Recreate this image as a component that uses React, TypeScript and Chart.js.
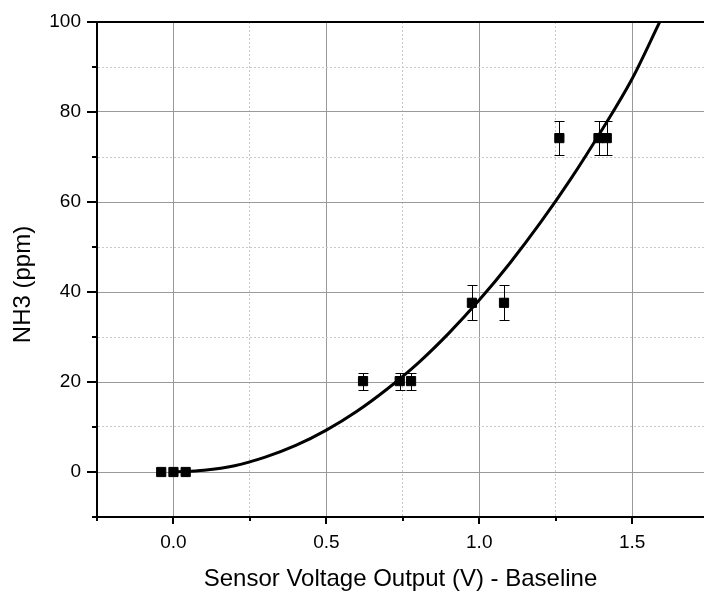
import React, { useEffect, useRef } from 'react';
import { Chart, registerables } from 'chart.js';

Chart.register(...registerables);

// ---- data ----
const xMajorTicks = [0, 0.5, 1.0, 1.5];
const xMinorTicks = [-0.25, 0.25, 0.75, 1.25];
const xTickLabels = ['0.0', '0.5', '1.0', '1.5'];
const yMajorTicks = [0, 20, 40, 60, 80, 100];
const yMinorTicks = [-10, 10, 30, 50, 70, 90];
const yTickLabels = ['0', '20', '40', '60', '80', '100'];

const pointX = [-0.04, 0.0, 0.04, 0.62, 0.74, 0.777, 0.976, 1.081, 1.262, 1.39, 1.417];
const pointY = [0, 0, 0, 20.2, 20.2, 20.2, 37.6, 37.6, 74.2, 74.2, 74.2];
const pointErr = [0, 0, 0, 1.9, 1.9, 1.9, 3.9, 3.9, 3.8, 3.8, 3.8];

const curveX = [0, 0.1, 0.2, 0.3, 0.4, 0.5, 0.6, 0.7, 0.8, 0.9, 1.0, 1.1, 1.2, 1.3, 1.4, 1.5, 1.59];
const curveY = [0, 0.4, 1.4, 3.3, 5.9, 9.3, 13.5, 18.5, 24.2, 30.8, 38.2, 46.4, 55.4, 65.2, 75.9, 87.4, 100];

const xTitle = 'Sensor Voltage Output (V) - Baseline';
const yTitle = 'NH3 (ppm)';

const FONT = '"Liberation Sans", Arial, Helvetica, sans-serif';

const near = (list: number[], v: number) => list.findIndex((m) => Math.abs(m - v) < 1e-9);

const decorPlugin = {
  id: 'decor',
  beforeDatasetsDraw(chart: any) {
    const { ctx, scales } = chart;
    const x = scales.x;
    const y = scales.y;
    ctx.save();
    ctx.strokeStyle = '#000';
    ctx.lineWidth = 1;
    pointX.forEach((vx, i) => {
      const e = pointErr[i];
      if (!e) return;
      const px = Math.round(x.getPixelForValue(vx)) + 0.5;
      const pTop = Math.round(y.getPixelForValue(pointY[i] + e)) + 0.5;
      const pBot = Math.round(y.getPixelForValue(pointY[i] - e)) + 0.5;
      ctx.beginPath();
      ctx.moveTo(px, pTop);
      ctx.lineTo(px, pBot);
      ctx.moveTo(px - 5, pTop);
      ctx.lineTo(px + 5, pTop);
      ctx.moveTo(px - 5, pBot);
      ctx.lineTo(px + 5, pBot);
      ctx.stroke();
    });
    ctx.restore();
  },
  afterDraw(chart: any) {
    const { ctx, chartArea: a, scales } = chart;
    const x = scales.x;
    const y = scales.y;
    ctx.save();
    ctx.strokeStyle = '#000';
    ctx.lineWidth = 2;
    ctx.beginPath();
    ctx.moveTo(a.left - 1, a.top);
    ctx.lineTo(a.right, a.top);
    ctx.stroke();

    ctx.lineWidth = 2;
    ctx.beginPath();
    yMajorTicks.forEach((v) => {
      const py = Math.round(y.getPixelForValue(v));
      ctx.moveTo(a.left - 10, py);
      ctx.lineTo(a.left, py);
    });
    yMinorTicks.forEach((v) => {
      const py = Math.round(y.getPixelForValue(v));
      ctx.moveTo(a.left - 5, py);
      ctx.lineTo(a.left, py);
    });
    xMajorTicks.forEach((v) => {
      const px = Math.round(x.getPixelForValue(v));
      ctx.moveTo(px, a.bottom);
      ctx.lineTo(px, a.bottom + 7);
    });
    xMinorTicks.forEach((v) => {
      const px = Math.round(x.getPixelForValue(v));
      ctx.moveTo(px, a.bottom);
      ctx.lineTo(px, a.bottom + 4);
    });
    ctx.stroke();

    // y axis title
    ctx.fillStyle = '#000';
    ctx.font = `24px ${FONT}`;
    ctx.textAlign = 'center';
    ctx.textBaseline = 'middle';
    ctx.translate(a.left - 74, (a.top + a.bottom) / 2 + 15);
    ctx.rotate(-Math.PI / 2);
    ctx.fillText(yTitle, 0, 0);
    ctx.restore();
  },
};

export default function App() {
  const ref = useRef<HTMLCanvasElement | null>(null);

  useEffect(() => {
    document.body.style.margin = '0';
    document.body.style.overflow = 'hidden';
    const canvas = ref.current;
    if (!canvas) return;

    const gridColor = (ctx: any) =>
      ctx.tick && near(ctx.scale.axis === 'x' ? xMajorTicks : yMajorTicks, ctx.tick.value) >= 0
        ? '#9a9a9a'
        : '#c8c8c8';
    const gridDash = (ctx: any) =>
      ctx.tick && near(ctx.scale.axis === 'x' ? xMajorTicks : yMajorTicks, ctx.tick.value) >= 0
        ? []
        : [2, 2];

    const chart = new Chart(canvas, {
      type: 'scatter',
      data: {
        datasets: [
          {
            label: 'fit',
            data: curveX.map((v, i) => ({ x: v, y: curveY[i] })),
            showLine: true,
            borderColor: '#000',
            borderWidth: 3,
            pointRadius: 0,
            cubicInterpolationMode: 'monotone',
            fill: false,
          } as any,
          {
            label: 'data',
            data: pointX.map((v, i) => ({ x: v, y: pointY[i] })),
            showLine: false,
            pointStyle: 'rect',
            pointRadius: 6.5,
            backgroundColor: '#000',
            borderColor: '#000',
            borderWidth: 1,
          } as any,
        ],
      },
      options: {
        responsive: false,
        animation: false,
        layout: { autoPadding: false, padding: { top: 22, left: 0, right: 0, bottom: 0 } },
        plugins: {
          legend: { display: false },
          tooltip: { enabled: false },
        },
        scales: {
          x: {
            type: 'linear',
            min: -0.25,
            max: 1.735,
            afterBuildTicks: (scale: any) => {
              scale.ticks = [...xMinorTicks, ...xMajorTicks]
                .sort((a, b) => a - b)
                .map((v) => ({ value: v }));
            },
            afterFit: (scale: any) => {
              scale.height = 77;
            },
            ticks: {
              autoSkip: false,
              maxRotation: 0,
              padding: 0,
              color: '#000',
              font: { family: FONT, size: 19 },
              callback: (value: any) => {
                const i = near(xMajorTicks, Number(value));
                return i >= 0 ? xTickLabels[i] : '';
              },
            },
            grid: {
              color: gridColor,
              lineWidth: 1,
              drawTicks: true,
              tickLength: 14,
              tickColor: 'rgba(0,0,0,0)',
            },
            border: { display: true, color: '#000', width: 2, dash: gridDash } as any,
            title: {
              display: true,
              text: xTitle,
              color: '#000',
              font: { family: FONT, size: 24, lineHeight: 1 },
              padding: { top: 0, bottom: 3 },
            },
          },
          y: {
            type: 'linear',
            min: -10,
            max: 100,
            afterBuildTicks: (scale: any) => {
              scale.ticks = [...yMinorTicks, ...yMajorTicks]
                .sort((a, b) => a - b)
                .map((v) => ({ value: v }));
            },
            afterFit: (scale: any) => {
              scale.width = 97;
            },
            ticks: {
              autoSkip: false,
              padding: 0,
              color: '#000',
              font: { family: FONT, size: 19 },
              callback: (value: any) => {
                const i = near(yMajorTicks, Number(value));
                return i >= 0 ? yTickLabels[i] : '';
              },
            },
            grid: {
              color: gridColor,
              lineWidth: 1,
              drawTicks: true,
              tickLength: 16,
              tickColor: 'rgba(0,0,0,0)',
            },
            border: { display: true, color: '#000', width: 2, dash: gridDash } as any,
          },
        },
      } as any,
      plugins: [decorPlugin],
    });

    return () => chart.destroy();
  }, []);

  return (
    <div style={{ width: 704, height: 594 }}>
      <canvas ref={ref} width={704} height={594} style={{ display: 'block' }} />
    </div>
  );
}
